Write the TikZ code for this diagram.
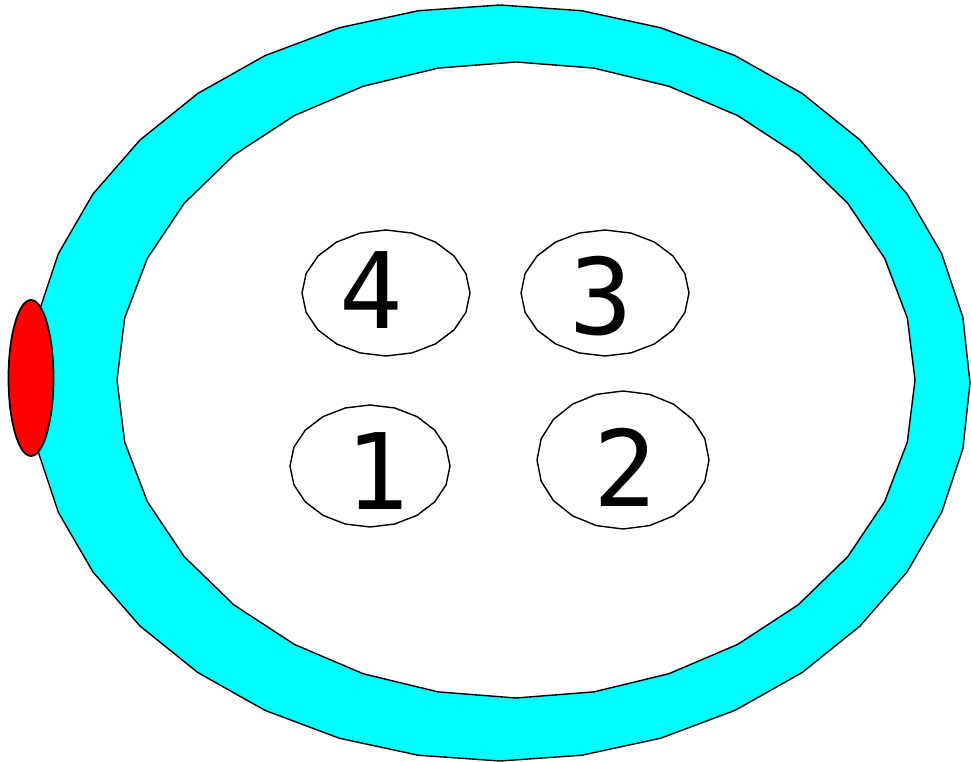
\documentclass[tikz,border=0pt]{standalone}
\usepackage{fontspec}
\newfontfamily\digitfont{DejaVu Sans Mono}
\usetikzlibrary{positioning}
\definecolor{ringcyan}{RGB}{0,255,255}
\definecolor{markred}{RGB}{255,0,0}
\tikzset{
  ringShape/.style={draw=black, line width=0.4pt, fill=ringcyan, even odd rule},
  holeShape/.style={draw=black, line width=0.4pt, fill=white},
  markShape/.style={draw=black, line width=0.5pt, fill=markred},
  digitLabel/.style={font=\digitfont\fontsize{30}{30}\selectfont, inner sep=0pt}
}

\begin{document}
\begin{tikzpicture}[x=0.01cm,y=-0.01cm]
  \useasboundingbox (0,0) rectangle (971,762);
  % cyan ring
  \draw[ringShape]
    plot[domain=0:360, samples=37, variable=\t] ({500+470*cos(\t)},{383+378*sin(\t)}) -- cycle
    plot[domain=0:360, samples=33, variable=\t] ({516+399*cos(\t)},{380+318*sin(\t)}) -- cycle;
  % red mark
  \draw[markShape] (31,378) ellipse [x radius=22.5, y radius=78];
  % four holes
  \foreach \cx/\cy/\rx/\ry in {386/293/84/63, 605/293/84/63, 370/466/80/61, 623/460/86/69}
  {
    \draw[holeShape] plot[domain=0:360, samples=21, variable=\t]
      ({\cx+\rx*cos(\t)},{\cy+\ry*sin(\t)}) -- cycle;
  }
  \node[digitLabel] (four) at (371,290) {4};
  \node[digitLabel] (three) at (601,296) {3};
  \node[digitLabel] (one) at (377,471) {1};
  \node[digitLabel] (two) at (625,467) {2};
\end{tikzpicture}
\end{document}
